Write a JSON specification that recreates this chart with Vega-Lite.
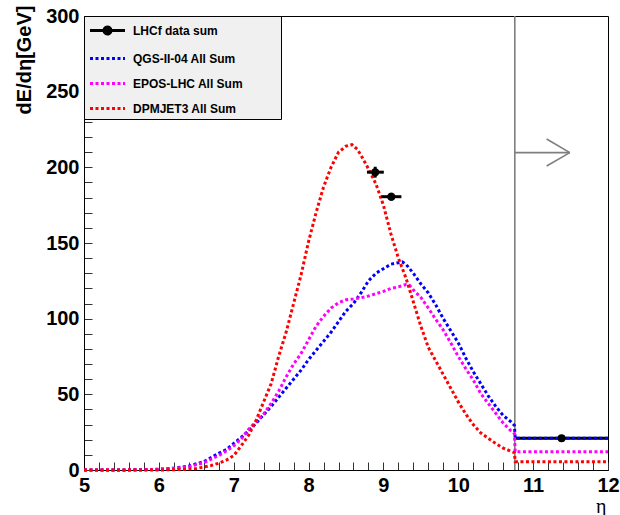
{
  "$schema": "https://vega.github.io/schema/vega-lite/v6.json",
  "width": 524,
  "height": 454,
  "autosize": "none",
  "padding": {"left": 84, "top": 16, "right": 12, "bottom": 45},
  "background": "white",
  "config": {
    "view": {"stroke": "black", "strokeWidth": 1},
    "font": "Liberation Sans",
    "axis": {"grid": false}
  },
  "datasets": {
    "segments": [
      {"eta": 10.755, "v": 0, "eta2": 10.755, "v2": 300},
      {"eta": 10.755, "v": 209.7, "eta2": 11.49, "v2": 209.7},
      {"eta": 11.18, "v": 218.7, "eta2": 11.49, "v2": 209.7},
      {"eta": 11.18, "v": 200.9, "eta2": 11.49, "v2": 209.7}
    ],
    "lhcfXerr": [
      {"eta": 8.78, "eta2": 9.005, "v": 196.8, "kind": "point"},
      {"eta": 8.97, "eta2": 9.24, "v": 180.6, "kind": "point"},
      {"eta": 10.76, "eta2": 12.0, "v": 21, "kind": "bin"}
    ],
    "lhcfYerr": [
      {"eta": 8.89, "v": 193.2, "v2": 200.4},
      {"eta": 9.105, "v": 178.0, "v2": 183.2},
      {"eta": 11.38, "v": 20.2, "v2": 21.8}
    ],
    "lhcf": [
      {"eta": 8.89, "v": 196.8},
      {"eta": 9.105, "v": 180.6},
      {"eta": 11.38, "v": 21}
    ],
    "curves": [
      {"model": "QGS-II-04 All Sum", "eta": 5.0, "v": 0},
      {"model": "QGS-II-04 All Sum", "eta": 5.5, "v": 0},
      {"model": "QGS-II-04 All Sum", "eta": 5.8, "v": 0.2},
      {"model": "QGS-II-04 All Sum", "eta": 6.0, "v": 0.5},
      {"model": "QGS-II-04 All Sum", "eta": 6.2, "v": 1.2},
      {"model": "QGS-II-04 All Sum", "eta": 6.4, "v": 2.6},
      {"model": "QGS-II-04 All Sum", "eta": 6.6, "v": 5.5},
      {"model": "QGS-II-04 All Sum", "eta": 6.8, "v": 11},
      {"model": "QGS-II-04 All Sum", "eta": 6.9, "v": 13.5},
      {"model": "QGS-II-04 All Sum", "eta": 7.0, "v": 17.5},
      {"model": "QGS-II-04 All Sum", "eta": 7.1, "v": 21.5},
      {"model": "QGS-II-04 All Sum", "eta": 7.2, "v": 26},
      {"model": "QGS-II-04 All Sum", "eta": 7.3, "v": 31},
      {"model": "QGS-II-04 All Sum", "eta": 7.4, "v": 36.5},
      {"model": "QGS-II-04 All Sum", "eta": 7.5, "v": 42},
      {"model": "QGS-II-04 All Sum", "eta": 7.6, "v": 48},
      {"model": "QGS-II-04 All Sum", "eta": 7.7, "v": 54},
      {"model": "QGS-II-04 All Sum", "eta": 7.8, "v": 60},
      {"model": "QGS-II-04 All Sum", "eta": 7.9, "v": 66},
      {"model": "QGS-II-04 All Sum", "eta": 8.0, "v": 73},
      {"model": "QGS-II-04 All Sum", "eta": 8.1, "v": 79},
      {"model": "QGS-II-04 All Sum", "eta": 8.2, "v": 85},
      {"model": "QGS-II-04 All Sum", "eta": 8.3, "v": 91},
      {"model": "QGS-II-04 All Sum", "eta": 8.4, "v": 98},
      {"model": "QGS-II-04 All Sum", "eta": 8.5, "v": 105},
      {"model": "QGS-II-04 All Sum", "eta": 8.6, "v": 110},
      {"model": "QGS-II-04 All Sum", "eta": 8.7, "v": 117},
      {"model": "QGS-II-04 All Sum", "eta": 8.8, "v": 125},
      {"model": "QGS-II-04 All Sum", "eta": 8.9, "v": 130},
      {"model": "QGS-II-04 All Sum", "eta": 9.0, "v": 133},
      {"model": "QGS-II-04 All Sum", "eta": 9.1, "v": 136},
      {"model": "QGS-II-04 All Sum", "eta": 9.2, "v": 137},
      {"model": "QGS-II-04 All Sum", "eta": 9.25, "v": 137.5},
      {"model": "QGS-II-04 All Sum", "eta": 9.3, "v": 136},
      {"model": "QGS-II-04 All Sum", "eta": 9.4, "v": 130},
      {"model": "QGS-II-04 All Sum", "eta": 9.5, "v": 123},
      {"model": "QGS-II-04 All Sum", "eta": 9.6, "v": 117},
      {"model": "QGS-II-04 All Sum", "eta": 9.7, "v": 109},
      {"model": "QGS-II-04 All Sum", "eta": 9.8, "v": 100},
      {"model": "QGS-II-04 All Sum", "eta": 9.9, "v": 92},
      {"model": "QGS-II-04 All Sum", "eta": 10.0, "v": 84},
      {"model": "QGS-II-04 All Sum", "eta": 10.1, "v": 74},
      {"model": "QGS-II-04 All Sum", "eta": 10.2, "v": 65},
      {"model": "QGS-II-04 All Sum", "eta": 10.3, "v": 57},
      {"model": "QGS-II-04 All Sum", "eta": 10.4, "v": 49},
      {"model": "QGS-II-04 All Sum", "eta": 10.5, "v": 42},
      {"model": "QGS-II-04 All Sum", "eta": 10.6, "v": 36},
      {"model": "QGS-II-04 All Sum", "eta": 10.7, "v": 32},
      {"model": "QGS-II-04 All Sum", "eta": 10.75, "v": 29.5},
      {"model": "QGS-II-04 All Sum", "eta": 10.76, "v": 21},
      {"model": "QGS-II-04 All Sum", "eta": 12.0, "v": 21},
      {"model": "EPOS-LHC All Sum", "eta": 5.0, "v": 0},
      {"model": "EPOS-LHC All Sum", "eta": 5.5, "v": 0},
      {"model": "EPOS-LHC All Sum", "eta": 5.8, "v": 0.2},
      {"model": "EPOS-LHC All Sum", "eta": 6.0, "v": 0.4},
      {"model": "EPOS-LHC All Sum", "eta": 6.2, "v": 1},
      {"model": "EPOS-LHC All Sum", "eta": 6.4, "v": 2.2},
      {"model": "EPOS-LHC All Sum", "eta": 6.6, "v": 4.8},
      {"model": "EPOS-LHC All Sum", "eta": 6.8, "v": 9.5},
      {"model": "EPOS-LHC All Sum", "eta": 6.9, "v": 12.5},
      {"model": "EPOS-LHC All Sum", "eta": 7.0, "v": 16},
      {"model": "EPOS-LHC All Sum", "eta": 7.1, "v": 20.5},
      {"model": "EPOS-LHC All Sum", "eta": 7.2, "v": 27},
      {"model": "EPOS-LHC All Sum", "eta": 7.3, "v": 32},
      {"model": "EPOS-LHC All Sum", "eta": 7.4, "v": 37},
      {"model": "EPOS-LHC All Sum", "eta": 7.5, "v": 44},
      {"model": "EPOS-LHC All Sum", "eta": 7.6, "v": 52},
      {"model": "EPOS-LHC All Sum", "eta": 7.7, "v": 61.5},
      {"model": "EPOS-LHC All Sum", "eta": 7.8, "v": 70},
      {"model": "EPOS-LHC All Sum", "eta": 7.9, "v": 77},
      {"model": "EPOS-LHC All Sum", "eta": 8.0, "v": 86},
      {"model": "EPOS-LHC All Sum", "eta": 8.1, "v": 95},
      {"model": "EPOS-LHC All Sum", "eta": 8.2, "v": 101.5},
      {"model": "EPOS-LHC All Sum", "eta": 8.3, "v": 107},
      {"model": "EPOS-LHC All Sum", "eta": 8.4, "v": 110.5},
      {"model": "EPOS-LHC All Sum", "eta": 8.5, "v": 112.5},
      {"model": "EPOS-LHC All Sum", "eta": 8.6, "v": 113},
      {"model": "EPOS-LHC All Sum", "eta": 8.7, "v": 113.8},
      {"model": "EPOS-LHC All Sum", "eta": 8.8, "v": 115},
      {"model": "EPOS-LHC All Sum", "eta": 8.9, "v": 116.5},
      {"model": "EPOS-LHC All Sum", "eta": 9.0, "v": 118},
      {"model": "EPOS-LHC All Sum", "eta": 9.1, "v": 120},
      {"model": "EPOS-LHC All Sum", "eta": 9.2, "v": 121},
      {"model": "EPOS-LHC All Sum", "eta": 9.3, "v": 122.5},
      {"model": "EPOS-LHC All Sum", "eta": 9.35, "v": 122},
      {"model": "EPOS-LHC All Sum", "eta": 9.4, "v": 119},
      {"model": "EPOS-LHC All Sum", "eta": 9.5, "v": 114},
      {"model": "EPOS-LHC All Sum", "eta": 9.6, "v": 107},
      {"model": "EPOS-LHC All Sum", "eta": 9.7, "v": 99.5},
      {"model": "EPOS-LHC All Sum", "eta": 9.8, "v": 92.5},
      {"model": "EPOS-LHC All Sum", "eta": 9.9, "v": 84},
      {"model": "EPOS-LHC All Sum", "eta": 10.0, "v": 75},
      {"model": "EPOS-LHC All Sum", "eta": 10.1, "v": 67},
      {"model": "EPOS-LHC All Sum", "eta": 10.2, "v": 59.5},
      {"model": "EPOS-LHC All Sum", "eta": 10.3, "v": 50.5},
      {"model": "EPOS-LHC All Sum", "eta": 10.4, "v": 44},
      {"model": "EPOS-LHC All Sum", "eta": 10.5, "v": 37.5},
      {"model": "EPOS-LHC All Sum", "eta": 10.6, "v": 31},
      {"model": "EPOS-LHC All Sum", "eta": 10.7, "v": 26},
      {"model": "EPOS-LHC All Sum", "eta": 10.75, "v": 24},
      {"model": "EPOS-LHC All Sum", "eta": 10.76, "v": 12},
      {"model": "EPOS-LHC All Sum", "eta": 12.0, "v": 12},
      {"model": "DPMJET3 All Sum", "eta": 5.0, "v": 0},
      {"model": "DPMJET3 All Sum", "eta": 6.0, "v": 0},
      {"model": "DPMJET3 All Sum", "eta": 6.3, "v": 0.3},
      {"model": "DPMJET3 All Sum", "eta": 6.5, "v": 1},
      {"model": "DPMJET3 All Sum", "eta": 6.7, "v": 3},
      {"model": "DPMJET3 All Sum", "eta": 6.8, "v": 4.5},
      {"model": "DPMJET3 All Sum", "eta": 6.9, "v": 6.5},
      {"model": "DPMJET3 All Sum", "eta": 7.0, "v": 9.5},
      {"model": "DPMJET3 All Sum", "eta": 7.1, "v": 16},
      {"model": "DPMJET3 All Sum", "eta": 7.2, "v": 23},
      {"model": "DPMJET3 All Sum", "eta": 7.3, "v": 33},
      {"model": "DPMJET3 All Sum", "eta": 7.4, "v": 45},
      {"model": "DPMJET3 All Sum", "eta": 7.5, "v": 57},
      {"model": "DPMJET3 All Sum", "eta": 7.6, "v": 75},
      {"model": "DPMJET3 All Sum", "eta": 7.7, "v": 91},
      {"model": "DPMJET3 All Sum", "eta": 7.8, "v": 110},
      {"model": "DPMJET3 All Sum", "eta": 7.9, "v": 129},
      {"model": "DPMJET3 All Sum", "eta": 8.0, "v": 151},
      {"model": "DPMJET3 All Sum", "eta": 8.1, "v": 170},
      {"model": "DPMJET3 All Sum", "eta": 8.2, "v": 187},
      {"model": "DPMJET3 All Sum", "eta": 8.3, "v": 200},
      {"model": "DPMJET3 All Sum", "eta": 8.4, "v": 210},
      {"model": "DPMJET3 All Sum", "eta": 8.5, "v": 214},
      {"model": "DPMJET3 All Sum", "eta": 8.58, "v": 215},
      {"model": "DPMJET3 All Sum", "eta": 8.65, "v": 212},
      {"model": "DPMJET3 All Sum", "eta": 8.7, "v": 208},
      {"model": "DPMJET3 All Sum", "eta": 8.8, "v": 199},
      {"model": "DPMJET3 All Sum", "eta": 8.9, "v": 189},
      {"model": "DPMJET3 All Sum", "eta": 9.0, "v": 175},
      {"model": "DPMJET3 All Sum", "eta": 9.1, "v": 156},
      {"model": "DPMJET3 All Sum", "eta": 9.2, "v": 140},
      {"model": "DPMJET3 All Sum", "eta": 9.3, "v": 127},
      {"model": "DPMJET3 All Sum", "eta": 9.4, "v": 111},
      {"model": "DPMJET3 All Sum", "eta": 9.5, "v": 95},
      {"model": "DPMJET3 All Sum", "eta": 9.6, "v": 81},
      {"model": "DPMJET3 All Sum", "eta": 9.7, "v": 72},
      {"model": "DPMJET3 All Sum", "eta": 9.8, "v": 63},
      {"model": "DPMJET3 All Sum", "eta": 9.9, "v": 54},
      {"model": "DPMJET3 All Sum", "eta": 10.0, "v": 45},
      {"model": "DPMJET3 All Sum", "eta": 10.1, "v": 37},
      {"model": "DPMJET3 All Sum", "eta": 10.2, "v": 30},
      {"model": "DPMJET3 All Sum", "eta": 10.3, "v": 24.5},
      {"model": "DPMJET3 All Sum", "eta": 10.4, "v": 21},
      {"model": "DPMJET3 All Sum", "eta": 10.5, "v": 17.5},
      {"model": "DPMJET3 All Sum", "eta": 10.6, "v": 14.5},
      {"model": "DPMJET3 All Sum", "eta": 10.7, "v": 12.5},
      {"model": "DPMJET3 All Sum", "eta": 10.75, "v": 11.5},
      {"model": "DPMJET3 All Sum", "eta": 10.76, "v": 5.5},
      {"model": "DPMJET3 All Sum", "eta": 12.0, "v": 5.5}
    ]
  },
  "encoding": {
    "x": {
      "field": "eta",
      "type": "quantitative",
      "title": "η",
      "scale": {"domain": [5, 12], "nice": false, "zero": false},
      "axis": {
        "values": [5, 5.2, 5.4, 5.6, 5.8, 6, 6.2, 6.4, 6.6, 6.8, 7, 7.2, 7.4, 7.6, 7.8, 8, 8.2, 8.4, 8.6, 8.8, 9, 9.2, 9.4, 9.6, 9.8, 10, 10.2, 10.4, 10.6, 10.8, 11, 11.2, 11.4, 11.6, 11.8, 12],
        "labelExpr": "abs(datum.value - round(datum.value)) < 0.01 ? format(datum.value, 'd') : ''",
        "labelOverlap": false,
        "labelFlush": false,
        "labelFont": "Liberation Sans",
        "labelFontWeight": "bold",
        "labelFontSize": 20,
        "labelColor": "black",
        "labelPadding": 13,
        "ticks": true,
        "tickSize": -8,
        "tickColor": "#333333",
        "tickWidth": 1,
        "domainColor": "black",
        "domainWidth": 1,
        "titleFont": "Liberation Serif",
        "titleFontWeight": "normal",
        "titleFontSize": 20,
        "titleColor": "black",
        "titleAlign": "right",
        "titleBaseline": "alphabetic",
        "titleX": 522,
        "titleY": 42
      }
    },
    "y": {
      "field": "v",
      "type": "quantitative",
      "title": "dE/dη[GeV]",
      "scale": {"domain": [0, 300], "nice": false},
      "axis": {
        "values": [0, 10, 20, 30, 40, 50, 60, 70, 80, 90, 100, 110, 120, 130, 140, 150, 160, 170, 180, 190, 200, 210, 220, 230, 240, 250, 260, 270, 280, 290, 300],
        "labelExpr": "datum.value % 50 === 0 ? format(datum.value, 'd') : ''",
        "labelOverlap": false,
        "labelFlush": false,
        "labelFont": "Liberation Sans",
        "labelFontWeight": "bold",
        "labelFontSize": 20,
        "labelColor": "black",
        "labelPadding": 13,
        "ticks": true,
        "tickSize": -8,
        "tickColor": "#333333",
        "tickWidth": 1,
        "domainColor": "black",
        "domainWidth": 1,
        "titleFont": "Liberation Sans",
        "titleFontWeight": "bold",
        "titleFontSize": 20,
        "titleColor": "black",
        "titleAngle": -90,
        "titleAlign": "right",
        "titleBaseline": "middle",
        "titleX": -60,
        "titleY": -11
      }
    }
  },
  "layer": [
    {
      "data": {"name": "segments"},
      "mark": {"type": "rule", "color": "#7f7f7f", "strokeWidth": 1.6},
      "encoding": {
        "x2": {"field": "eta2"},
        "y2": {"field": "v2"}
      }
    },
    {
      "data": {"name": "lhcfXerr"},
      "transform": [{"filter": "datum.kind === 'bin'"}],
      "mark": {"type": "rule", "color": "black", "strokeWidth": 3},
      "encoding": {
        "x2": {"field": "eta2"}
      }
    },
    {
      "data": {"name": "curves"},
      "mark": {"type": "line", "strokeWidth": 3, "strokeCap": "butt", "interpolate": "linear"},
      "encoding": {
        "color": {
          "field": "model",
          "type": "nominal",
          "scale": {"domain": ["LHCf data sum", "QGS-II-04 All Sum", "EPOS-LHC All Sum", "DPMJET3 All Sum"], "range": ["#000000", "#0000ff", "#ff00ff", "#ff0000"]},
          "legend": {
            "title": null,
            "orient": "top-left",
            "offset": 0,
            "fillColor": "#f0f0f0",
            "strokeColor": "black",
            "padding": 4,
            "rowPadding": 8,
            "symbolSize": 306.25,
            "symbolStrokeWidth": 3,
            "symbolOffset": 9,
            "labelOffset": 15,
            "labelFont": "Liberation Sans",
            "labelFontWeight": "bold",
            "labelFontSize": 12,
            "labelColor": "black",
            "labelLimit": 400,
            "labelExpr": "datum.label + '\u00a0\u00a0\u00a0\u00a0\u00a0\u00a0\u00a0\u00a0\u00a0\u00a0\u200b'",
            "encode": {
              "symbols": {
                "update": {
                  "shape": [
                    {"test": "datum.value === 'LHCf data sum'", "value": "M-2,0H2M-0.4,0A0.4,0.4 0 1,0 0.4,0A0.4,0.4 0 1,0 -0.4,0Z"},
                    {"value": "M-2,0H2"}
                  ],
                  "fill": [
                    {"test": "datum.value === 'LHCf data sum'", "value": "black"},
                    {"value": "transparent"}
                  ],
                  "strokeWidth": {"value": 3}
                }
              }
            }
          }
        },
        "strokeDash": {
          "field": "model",
          "type": "nominal",
          "scale": {"domain": ["LHCf data sum", "QGS-II-04 All Sum", "EPOS-LHC All Sum", "DPMJET3 All Sum"], "range": [[1, 0], [3, 2.5], [3, 2.5], [3, 2.5]]},
          "legend": {
            "title": null,
            "orient": "top-left",
            "offset": 0,
            "fillColor": "#f0f0f0",
            "strokeColor": "black",
            "padding": 4,
            "rowPadding": 8,
            "symbolSize": 306.25,
            "symbolStrokeWidth": 3,
            "symbolOffset": 9,
            "labelOffset": 15,
            "labelFont": "Liberation Sans",
            "labelFontWeight": "bold",
            "labelFontSize": 12,
            "labelColor": "black",
            "labelLimit": 400,
            "labelExpr": "datum.label + '\u00a0\u00a0\u00a0\u00a0\u00a0\u00a0\u00a0\u00a0\u00a0\u00a0\u200b'",
            "encode": {
              "symbols": {
                "update": {
                  "shape": [
                    {"test": "datum.value === 'LHCf data sum'", "value": "M-2,0H2M-0.4,0A0.4,0.4 0 1,0 0.4,0A0.4,0.4 0 1,0 -0.4,0Z"},
                    {"value": "M-2,0H2"}
                  ],
                  "fill": [
                    {"test": "datum.value === 'LHCf data sum'", "value": "black"},
                    {"value": "transparent"}
                  ],
                  "strokeWidth": {"value": 3}
                }
              }
            }
          }
        }
      }
    },
    {
      "data": {"name": "lhcfXerr"},
      "transform": [{"filter": "datum.kind === 'point'"}],
      "mark": {"type": "rule", "color": "black", "strokeWidth": 3},
      "encoding": {
        "x2": {"field": "eta2"}
      }
    },
    {
      "data": {"name": "lhcfYerr"},
      "mark": {"type": "rule", "color": "black", "strokeWidth": 3},
      "encoding": {
        "y2": {"field": "v2"}
      }
    },
    {
      "data": {"name": "lhcf"},
      "mark": {"type": "point", "filled": true, "shape": "circle", "color": "black", "size": 64, "opacity": 1}
    }
  ]
}
